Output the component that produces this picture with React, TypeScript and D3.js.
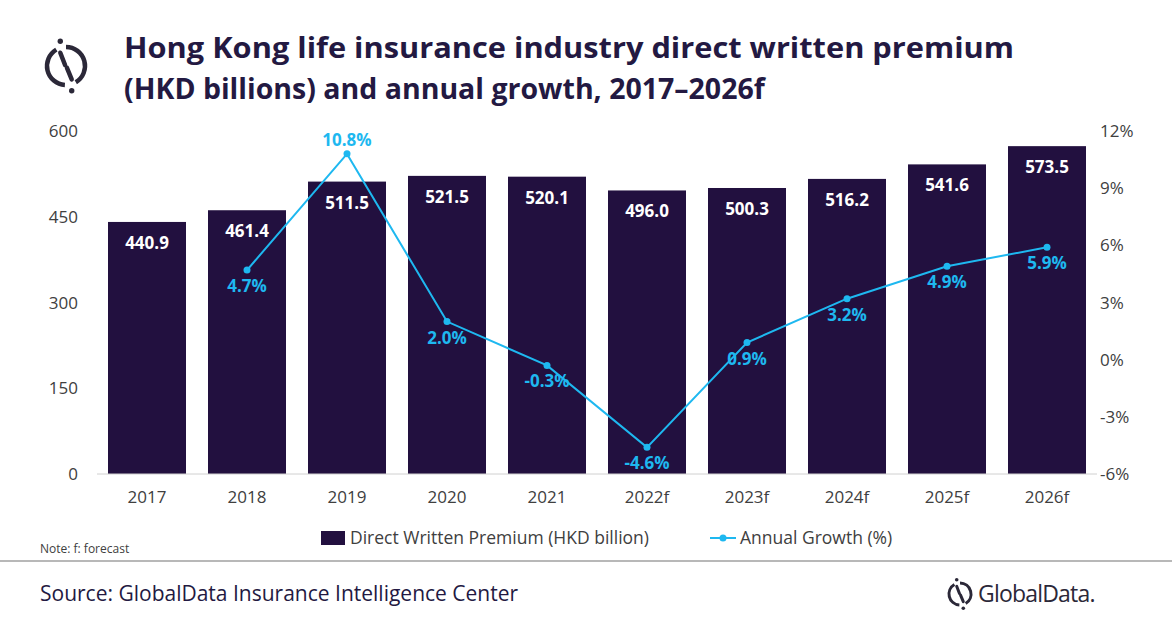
import * as d3 from "d3";

const years = ["2017", "2018", "2019", "2020", "2021", "2022f", "2023f", "2024f", "2025f", "2026f"];
const premium = [440.9, 461.4, 511.5, 521.5, 520.1, 496.0, 500.3, 516.2, 541.6, 573.5];
const growth: (number | null)[] = [null, 4.7, 10.8, 2.0, -0.3, -4.6, 0.9, 3.2, 4.9, 5.9];
const leftTicks = [0, 150, 300, 450, 600];
const rightTicks = [-6, -3, 0, 3, 6, 9, 12];

const W = 1172, H = 628;
const BAR = "#22103f";
const LINE = "#1eb8f0";
const FONT = "'Open Sans', sans-serif";

function Logo({ x, y, r, color, w }: { x: number; y: number; r: number; color: string; w: number }) {
  const arc = d3.arc();
  const a1 = arc({ innerRadius: r - w / 2, outerRadius: r + w / 2, startAngle: 0.0, endAngle: 2.6 }) as string;
  const a2 = arc({ innerRadius: r - w / 2, outerRadius: r + w / 2, startAngle: 3.2, endAngle: 5.75 }) as string;
  return (
    <g transform={`translate(${x},${y})`} fill={color} stroke="none">
      <path d={a1} />
      <path d={a2} />
      <line x1={-r * 0.3} y1={-r * 0.7} x2={-r * 0.05} y2={-r * 0.05} stroke={color} strokeWidth={w} strokeLinecap="round" />
      <line x1={r * 0.05} y1={r * 0.1} x2={r * 0.3} y2={r * 0.7} stroke={color} strokeWidth={w} strokeLinecap="round" />
      <circle cx={-r * 0.3} cy={-r * 1.3} r={w * 0.6} />
      <circle cx={r * 0.3} cy={r * 1.3} r={w * 0.6} />
    </g>
  );
}

export default function App() {
  const top = 131, bottom = 474;
  const x = d3.scaleBand().domain(years).range([97, 1097]).paddingInner(0.22).paddingOuter(0.11);
  const yL = d3.scaleLinear().domain([0, 600]).range([bottom, top]);
  const yR = d3.scaleLinear().domain([-6, 12]).range([bottom, top]);
  const cx = (d: string) => (x(d) as number) + x.bandwidth() / 2;
  const pts = years.map((d, i) => ({ d, v: growth[i] })).filter(p => p.v !== null) as { d: string; v: number }[];
  const line = d3.line<{ d: string; v: number }>().x(p => cx(p.d)).y(p => yR(p.v));

  return (
    <svg width={W} height={H} style={{ position: "absolute", left: 0, top: 0, background: "#fff" }} fontFamily={FONT}>
      <rect width={W} height={H} fill="#fff" />
      <Logo x={66} y={66} r={19} color="#2b2838" w={4.5} />
      <text x={124} y={58} fontSize={28.5} fontWeight="bold" fill="#231942" textLength={890} lengthAdjust="spacingAndGlyphs">Hong Kong life insurance industry direct written premium</text>
      <text x={124} y={99} fontSize={28.5} fontWeight="bold" fill="#231942">(HKD billions) and annual growth, 2017–2026f</text>

      {leftTicks.map(t => (
        <text key={t} x={78} y={yL(t) + 6} fontSize={17} textAnchor="end" fill="#404040">{t}</text>
      ))}
      {rightTicks.map(t => (
        <text key={t} x={1100} y={yR(t) + 6} fontSize={17} fill="#404040">{t}%</text>
      ))}

      {years.map((d, i) => (
        <g key={d}>
          <rect x={x(d)} y={yL(premium[i])} width={x.bandwidth()} height={bottom - yL(premium[i])} fill={BAR} />
          <text x={cx(d)} y={yL(premium[i]) + 27} fontSize={17} fontWeight="bold" fill="#fff" textAnchor="middle">{premium[i].toFixed(1)}</text>
          <text x={cx(d)} y={503} fontSize={17} fill="#404040" textAnchor="middle">{d}</text>
        </g>
      ))}
      <line x1={97} x2={1097} y1={bottom} y2={bottom} stroke="#d0d0d0" strokeWidth={1} />

      <path d={line(pts) as string} fill="none" stroke={LINE} strokeWidth={2} />
      {pts.map(p => (
        <g key={p.d}>
          <circle cx={cx(p.d)} cy={yR(p.v)} r={3.5} fill={LINE} />
          <text x={cx(p.d)} y={p.v > 10 ? yR(p.v) - 8 : yR(p.v) + 22} fontSize={17} fontWeight="bold" fill={LINE} textAnchor="middle">{p.v.toFixed(1)}%</text>
        </g>
      ))}

      <rect x={321} y={531} width={24} height={14} fill={BAR} />
      <text x={350} y={544} fontSize={17.5} fill="#404040">Direct Written Premium (HKD billion)</text>
      <line x1={710} x2={736} y1={538} y2={538} stroke={LINE} strokeWidth={2} />
      <circle cx={723} cy={538} r={3.5} fill={LINE} />
      <text x={740} y={544} fontSize={17.5} fill="#404040">Annual Growth (%)</text>

      <text x={40} y={553} fontSize={12} fill="#404040">Note: f: forecast</text>
      <line x1={0} x2={W} y1={561} y2={561} stroke="#a0a0a0" strokeWidth={1.5} />
      <text x={40} y={601} fontSize={21} fill="#231942">Source: GlobalData Insurance Intelligence Center</text>
      <Logo x={960} y={594} r={11} color="#2b2838" w={3} />
      <text x={978} y={602} fontSize={23} fill="#2b2838" letterSpacing={-0.8}>GlobalData.</text>
    </svg>
  );
}
